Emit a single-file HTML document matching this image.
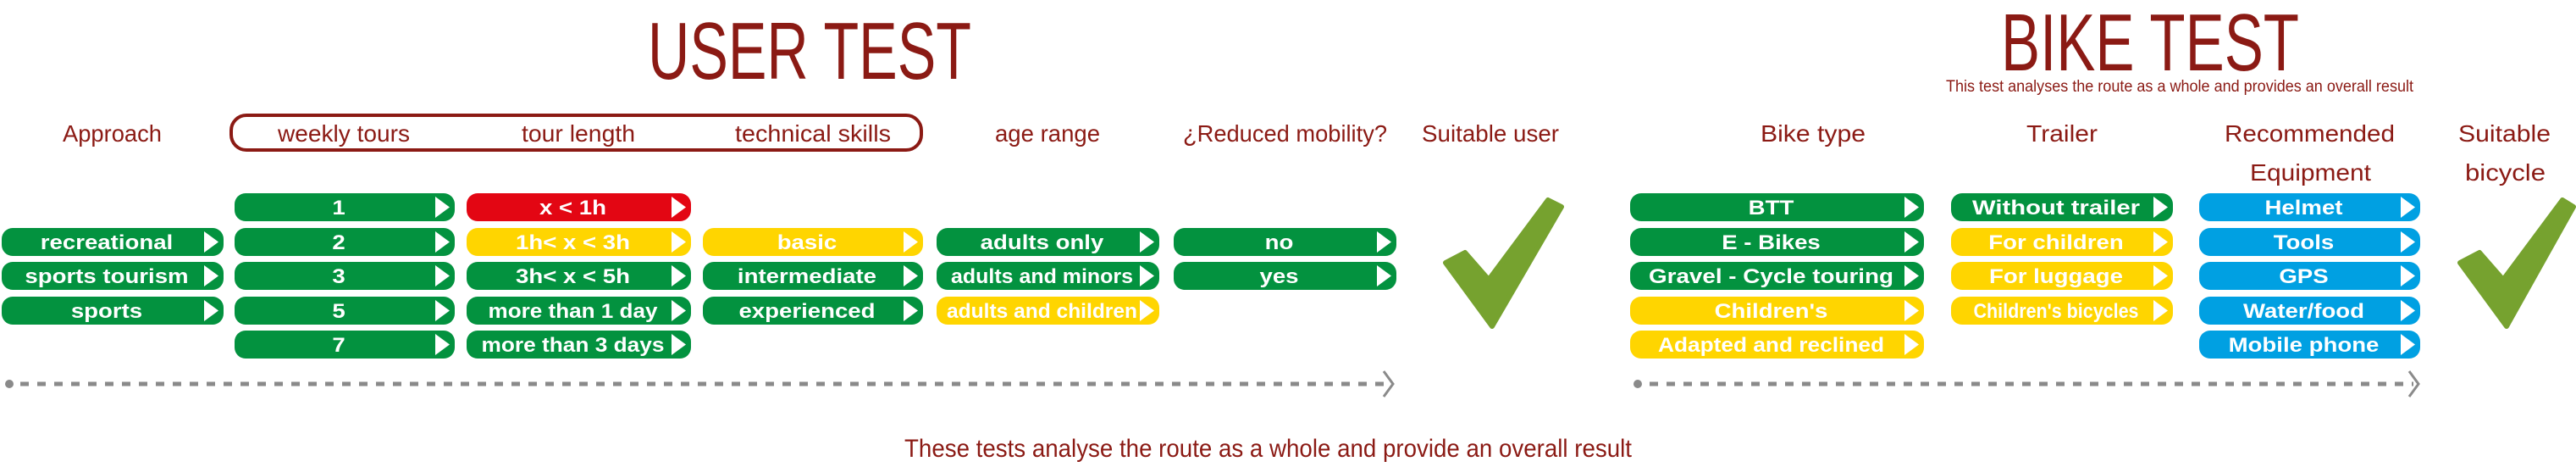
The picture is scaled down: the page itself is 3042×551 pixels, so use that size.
<!DOCTYPE html>
<html><head><meta charset="utf-8"><style>
html,body{margin:0;padding:0;background:#fff;}
svg{display:block;}
text{font-family:"Liberation Sans",sans-serif;}
.h{fill:#8b1a14;font-size:28px;}
.p{fill:#fff;font-size:24px;font-weight:bold;}
</style></head><body>
<svg width="3042" height="551" viewBox="0 0 3042 551" xmlns="http://www.w3.org/2000/svg">
<defs>
<g id="arr"><polygon points="-23,4 -6,16.5 -23,29" fill="#fff"/></g>
</defs>
<!-- Titles -->
<text x="765" y="93" fill="#8b1a14" font-size="96" textLength="382" lengthAdjust="spacingAndGlyphs">USER TEST</text>
<text x="2363" y="83" fill="#8b1a14" font-size="96" textLength="352" lengthAdjust="spacingAndGlyphs">BIKE TEST</text>
<text x="2298" y="108" fill="#8b1a14" font-size="19" textLength="552" lengthAdjust="spacingAndGlyphs">This test analyses the route as a whole and provides an overall result</text>

<!-- header box -->
<rect x="273" y="136" width="815" height="41" rx="18" fill="none" stroke="#8b1a14" stroke-width="4"/>

<!-- headers -->
<g class="h">
<text x="74" y="167" textLength="117" lengthAdjust="spacingAndGlyphs">Approach</text>
<text x="328" y="167" textLength="156" lengthAdjust="spacingAndGlyphs">weekly tours</text>
<text x="616" y="167" textLength="134" lengthAdjust="spacingAndGlyphs">tour length</text>
<text x="868" y="167" textLength="184" lengthAdjust="spacingAndGlyphs">technical skills</text>
<text x="1175" y="167" textLength="124" lengthAdjust="spacingAndGlyphs">age range</text>
<text x="1397" y="167" textLength="241" lengthAdjust="spacingAndGlyphs">¿Reduced mobility?</text>
<text x="1679" y="167" textLength="162" lengthAdjust="spacingAndGlyphs">Suitable user</text>
<text x="2079" y="167" textLength="124" lengthAdjust="spacingAndGlyphs">Bike type</text>
<text x="2393" y="167" textLength="84" lengthAdjust="spacingAndGlyphs">Trailer</text>
<text x="2627" y="167" textLength="201" lengthAdjust="spacingAndGlyphs">Recommended</text>
<text x="2657" y="213" textLength="143" lengthAdjust="spacingAndGlyphs">Equipment</text>
<text x="2903" y="167" textLength="109" lengthAdjust="spacingAndGlyphs">Suitable</text>
<text x="2911" y="213" textLength="95" lengthAdjust="spacingAndGlyphs">bicycle</text>
</g>

<!-- pills -->
<g id="pills"></g>

<!-- checkmarks -->
<g fill="#76a22f" stroke="#76a22f" stroke-width="6" stroke-linejoin="round">
<polygon points="1707,310 1730,298 1758,330 1828,236 1844,244 1762,385"/>
<polygon points="2905,310 2928,298 2956,330 3026,236 3039,244 2960,385"/>
</g>

<!-- dashed lines -->
<g stroke="#8a8a8a" fill="none">
<circle cx="11" cy="453" r="5" fill="#8a8a8a" stroke="none"/>
<line x1="24" y1="453" x2="1640" y2="453" stroke-width="5" stroke-dasharray="10,10"/>
<polyline points="1634,438 1645,453 1634,468" stroke-width="3"/>
<circle cx="1934" cy="453" r="5" fill="#8a8a8a" stroke="none"/>
<line x1="1948" y1="453" x2="2850" y2="453" stroke-width="5" stroke-dasharray="10,10"/>
<polyline points="2845,438 2856,453 2845,468" stroke-width="3"/>
</g>

<text x="1068" y="539" fill="#8b1a14" font-size="30" textLength="859" lengthAdjust="spacingAndGlyphs">These tests analyse the route as a whole and provide an overall result</text>

<script>
(function(){
var G='#03923f',R='#e30613',Y='#ffd500',B='#00a0e2';
var rows=[228,269,309,350,390];
var cols=[
 [2,264,[[1,'recreational',G],[2,'sports tourism',G],[3,'sports',G]]],
 [277,537,[[0,'1',G],[1,'2',G],[2,'3',G],[3,'5',G],[4,'7',G]]],
 [551,816,[[0,'x < 1h',R],[1,'1h< x < 3h',Y],[2,'3h< x < 5h',G],[3,'more than 1 day',G,200],[4,'more than 3 days',G,216]]],
 [830,1090,[[1,'basic',Y],[2,'intermediate',G],[3,'experienced',G]]],
 [1106,1369,[[1,'adults only',G],[2,'adults and minors',G,215],[3,'adults and children',Y,225]]],
 [1386,1649,[[1,'no',G],[2,'yes',G]]],
 [1925,2272,[[0,'BTT',G],[1,'E - Bikes',G],[2,'Gravel - Cycle touring',G,289],[3,"Children's",Y],[4,'Adapted and reclined',Y,267]]],
 [2304,2566,[[0,'Without trailer',G,198],[1,'For children',Y],[2,'For luggage',Y],[3,"Children's bicycles",Y,195]]],
 [2597,2858,[[0,'Helmet',B],[1,'Tools',B],[2,'GPS',B],[3,'Water/food',B],[4,'Mobile phone',B]]]
];
var NS='http://www.w3.org/2000/svg',g=document.getElementById('pills');
function el(t,a,p){var e=document.createElementNS(NS,t);for(var k in a)e.setAttribute(k,a[k]);(p||g).appendChild(e);return e;}
cols.forEach(function(c){
 var x0=c[0],x1=c[1],w=x1-x0;
 c[2].forEach(function(it){
  var y=rows[it[0]];
  el('rect',{x:x0,y:y,width:w,height:33,rx:13,fill:it[2]});
  el('polygon',{points:(x1-23)+','+(y+4)+' '+(x1-6)+','+(y+16.5)+' '+(x1-23)+','+(y+29),fill:'#fff'});
  var cx=x0+(w-22)/2+4;
  var t=el('text',{x:cx,y:y+25,'text-anchor':'middle','class':'p'});
  if(it[3]){t.setAttribute('textLength',it[3]);t.setAttribute('lengthAdjust','spacingAndGlyphs');}
  else{t.setAttribute('transform','translate('+cx+',0) scale(1.15,1) translate('+(-cx)+',0)');}
  t.textContent=it[1];
 });
});
})();
</script>
</svg>
</body></html>
